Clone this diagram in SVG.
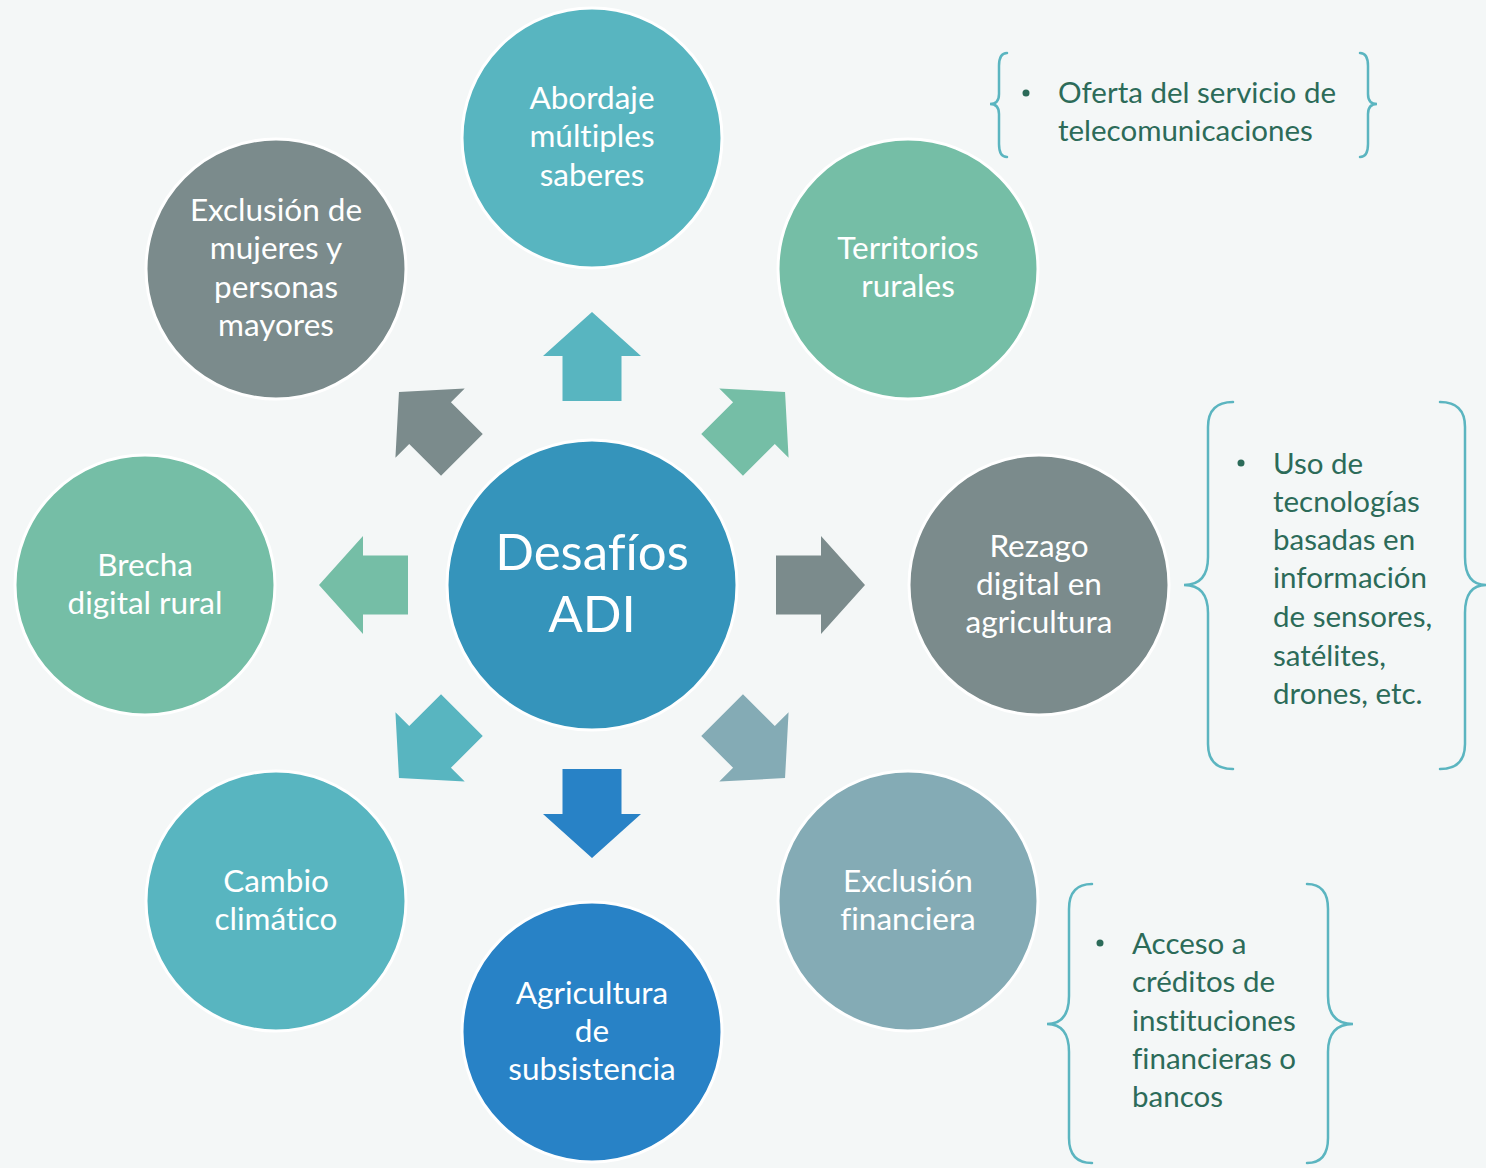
<svg xmlns="http://www.w3.org/2000/svg" width="1486" height="1168" viewBox="0 0 1486 1168">
<style>
text{font-variant-ligatures:none;font-feature-settings:"liga" 0}
.ct{font-family:Lato,"Open Sans",sans-serif;font-size:31.5px;fill:#ffffff;text-anchor:middle}
.cc{font-family:Lato,"Open Sans",sans-serif;font-size:51px;fill:#ffffff;text-anchor:middle}
.bt{font-family:Lato,"Open Sans",sans-serif;font-size:29.5px;fill:#2c6b59}
.br{fill:none;stroke:#5bb5c0;stroke-width:2.5;stroke-linecap:round}
.node circle{stroke:#ffffff;stroke-width:3}
</style>
<defs>
<path id="arr" d="M0,-273 L49,-229 L29.5,-229 L29.5,-184 L-29.5,-184 L-29.5,-229 L-49,-229 Z"/>
</defs>
<rect width="1486" height="1168" fill="#f4f7f7"/>
<g id="connectors">
<use href="#arr" transform="translate(592,585) rotate(0)" fill="#58b5c0"/>
<use href="#arr" transform="translate(592,585) rotate(45)" fill="#75bea6"/>
<use href="#arr" transform="translate(592,585) rotate(90)" fill="#7b8b8c"/>
<use href="#arr" transform="translate(592,585) rotate(135)" fill="#84abb5"/>
<use href="#arr" transform="translate(592,585) rotate(180)" fill="#2882c6"/>
<use href="#arr" transform="translate(592,585) rotate(225)" fill="#58b5c0"/>
<use href="#arr" transform="translate(592,585) rotate(270)" fill="#75bea6"/>
<use href="#arr" transform="translate(592,585) rotate(315)" fill="#7b8b8c"/>
</g>
<g id="center" class="node">
<circle cx="592" cy="585" r="145" fill="#3594bb"/>
<text class="cc" x="592" y="570">Desafíos</text>
<text class="cc" x="592" y="632">ADI</text>
</g>
<g id="n-top" class="node">
<circle cx="592" cy="138" r="130" fill="#58b5c0"/>
<text class="ct" x="592" y="109">Abordaje</text>
<text class="ct" x="592" y="147">múltiples</text>
<text class="ct" x="592" y="186">saberes</text>
</g>
<g id="n-topright" class="node">
<circle cx="908" cy="269" r="130" fill="#75bea6"/>
<text class="ct" x="908" y="259">Territorios</text>
<text class="ct" x="908" y="297">rurales</text>
</g>
<g id="n-right" class="node">
<circle cx="1039" cy="585" r="130" fill="#7b8b8c"/>
<text class="ct" x="1039" y="557">Rezago</text>
<text class="ct" x="1039" y="595">digital en</text>
<text class="ct" x="1039" y="633">agricultura</text>
</g>
<g id="n-bottomright" class="node">
<circle cx="908" cy="901" r="130" fill="#84abb5"/>
<text class="ct" x="908" y="892">Exclusión</text>
<text class="ct" x="908" y="930">financiera</text>
</g>
<g id="n-bottom" class="node">
<circle cx="592" cy="1032" r="130" fill="#2882c6"/>
<text class="ct" x="592" y="1004">Agricultura</text>
<text class="ct" x="592" y="1042">de</text>
<text class="ct" x="592" y="1080">subsistencia</text>
</g>
<g id="n-bottomleft" class="node">
<circle cx="276" cy="901" r="130" fill="#58b5c0"/>
<text class="ct" x="276" y="892">Cambio</text>
<text class="ct" x="276" y="930">climático</text>
</g>
<g id="n-left" class="node">
<circle cx="145" cy="585" r="130" fill="#75bea6"/>
<text class="ct" x="145" y="576">Brecha</text>
<text class="ct" x="145" y="614">digital rural</text>
</g>
<g id="n-topleft" class="node">
<circle cx="276" cy="269" r="130" fill="#7b8b8c"/>
<text class="ct" x="276" y="221">Exclusión de</text>
<text class="ct" x="276" y="259">mujeres y</text>
<text class="ct" x="276" y="298">personas</text>
<text class="ct" x="276" y="336">mayores</text>
</g>
<g id="note-telecom">
<path class="br" d="M1007,53 Q999,53 999,66 L999,94 Q999,104 990,104 Q999,104 999,114 L999,144 Q999,157 1007,157"/>
<path class="br" d="M1360,53 Q1368,53 1368,66 L1368,94 Q1368,104 1377,104 Q1368,104 1368,114 L1368,144 Q1368,157 1360,157"/>
<circle cx="1026" cy="93" r="3.5" fill="#2c6b59"/>
<text class="bt" x="1058" y="103">Oferta del servicio de</text>
<text class="bt" x="1058" y="141">telecomunicaciones</text>
</g>
<g id="note-tech">
<path class="br" d="M1233,402 Q1208,402 1208,427 L1208,557 Q1208,585 1184,585 Q1208,585 1208,613 L1208,744 Q1208,769 1233,769"/>
<path class="br" d="M1440,402 Q1465,402 1465,427 L1465,557 Q1465,585 1486,585 Q1465,585 1465,613 L1465,744 Q1465,769 1440,769"/>
<circle cx="1241" cy="463" r="3.5" fill="#2c6b59"/>
<text class="bt" x="1273" y="474">Uso de</text>
<text class="bt" x="1273" y="512">tecnologías</text>
<text class="bt" x="1273" y="550">basadas en</text>
<text class="bt" x="1273" y="588">información</text>
<text class="bt" x="1273" y="627">de sensores,</text>
<text class="bt" x="1273" y="666">satélites,</text>
<text class="bt" x="1273" y="704">drones, etc.</text>
</g>
<g id="note-credit">
<path class="br" d="M1092,884 Q1069,884 1069,909 L1069,996 Q1069,1024 1047,1024 Q1069,1024 1069,1052 L1069,1138 Q1069,1163 1092,1163"/>
<path class="br" d="M1307,884 Q1328,884 1328,909 L1328,996 Q1328,1024 1353,1024 Q1328,1024 1328,1052 L1328,1138 Q1328,1163 1307,1163"/>
<circle cx="1100" cy="943" r="3.5" fill="#2c6b59"/>
<text class="bt" x="1132" y="954">Acceso a</text>
<text class="bt" x="1132" y="992">créditos de</text>
<text class="bt" x="1132" y="1031">instituciones</text>
<text class="bt" x="1132" y="1069">financieras o</text>
<text class="bt" x="1132" y="1107">bancos</text>
</g>
</svg>
